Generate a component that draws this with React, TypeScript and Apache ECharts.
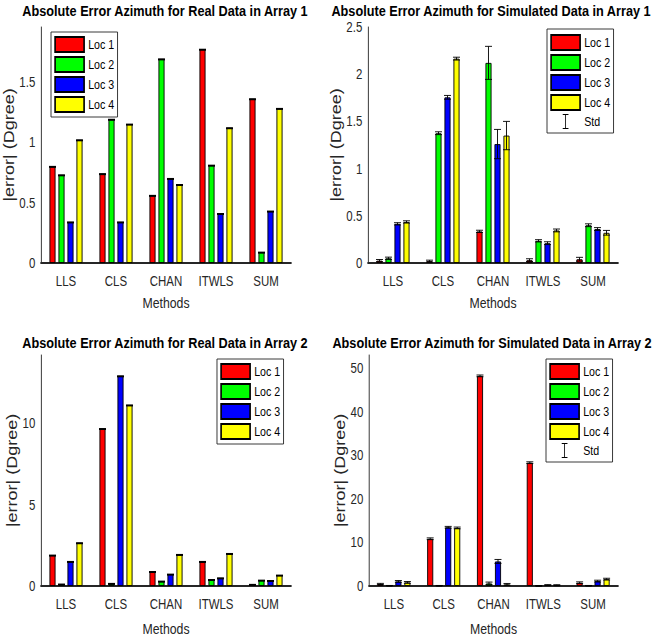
import React, { useEffect, useRef } from 'react';
import * as echarts from 'echarts';

const categories = ['LLS', 'CLS', 'CHAN', 'ITWLS', 'SUM'];
const locNames = ['Loc 1', 'Loc 2', 'Loc 3', 'Loc 4'];
const locColors = ['#ff0000', '#00ff00', '#0000ff', '#ffff00'];

// Absolute Error Azimuth for Real Data in Array 1
const real1Loc1 = [0.8, 0.74, 0.56, 1.77, 1.36];
const real1Loc2 = [0.73, 1.19, 1.69, 0.81, 0.09];
const real1Loc3 = [0.34, 0.34, 0.7, 0.41, 0.43];
const real1Loc4 = [1.02, 1.15, 0.65, 1.12, 1.28];

// Absolute Error Azimuth for Simulated Data in Array 1 (mean and std)
const sim1Loc1 = [0.025, 0.02, 0.335, 0.03, 0.04];
const sim1Loc2 = [0.05, 1.375, 2.12, 0.235, 0.4];
const sim1Loc3 = [0.415, 1.755, 1.26, 0.21, 0.36];
const sim1Loc4 = [0.435, 2.165, 1.35, 0.345, 0.32];
const sim1Std1 = [0.012, 0.01, 0.012, 0.015, 0.02];
const sim1Std2 = [0.012, 0.015, 0.175, 0.012, 0.015];
const sim1Std3 = [0.012, 0.02, 0.155, 0.015, 0.015];
const sim1Std4 = [0.012, 0.015, 0.15, 0.015, 0.025];

// Absolute Error Azimuth for Real Data in Array 2
const real2Loc1 = [1.9, 9.68, 0.89, 1.51, 0.1];
const real2Loc2 = [0.12, 0.16, 0.3, 0.4, 0.36];
const real2Loc3 = [1.51, 12.92, 0.73, 0.5, 0.34];
const real2Loc4 = [2.66, 11.13, 1.94, 2.0, 0.67];

// Absolute Error Azimuth for Simulated Data in Array 2 (mean and std)
const sim2Loc1 = [0.45, 10.86, 48.3, 28.35, 0.75];
const sim2Loc2 = [0.1, 0.1, 0.6, 0.05, 0.1];
const sim2Loc3 = [1.06, 13.5, 5.65, 0.22, 1.13];
const sim2Loc4 = [0.83, 13.35, 0.38, 0.2, 1.58];
const sim2Std1 = [0.15, 0.2, 0.2, 0.2, 0.2];
const sim2Std2 = [0.02, 0.02, 0.3, 0.02, 0.02];
const sim2Std3 = [0.2, 0.2, 0.45, 0.1, 0.2];
const sim2Std4 = [0.2, 0.2, 0.2, 0.1, 0.2];

const titles = [
  'Absolute Error Azimuth for Real Data in Array 1',
  'Absolute Error Azimuth for Simulated Data in Array 1',
  'Absolute Error Azimuth for Real Data in Array 2',
  'Absolute Error Azimuth for Simulated Data in Array 2',
];
const yMax = [1.954, 2.5, 14.2, 53.1];
const yInterval = [0.5, 0.5, 5, 10];

// The reference figure is horizontally condensed: draw wider, then squeeze.
const PAGE_W = 654;
const PAGE_H = 638;
const CHART_W = 798;
const SX = PAGE_W / CHART_W;
const sx = (v: number) => v / SX;

const SANS = '"Liberation Sans", Arial, sans-serif';
const AXIS_COLOR = '#262626';
const BAR_W = sx(6);
const BAR_STEP = sx(9);
const CAP_HW = sx(3.5);

const panels = [
  { values: [real1Loc1, real1Loc2, real1Loc3, real1Loc4], std: null as number[][] | null },
  { values: [sim1Loc1, sim1Loc2, sim1Loc3, sim1Loc4], std: [sim1Std1, sim1Std2, sim1Std3, sim1Std4] },
  { values: [real2Loc1, real2Loc2, real2Loc3, real2Loc4], std: null as number[][] | null },
  { values: [sim2Loc1, sim2Loc2, sim2Loc3, sim2Loc4], std: [sim2Std1, sim2Std2, sim2Std3, sim2Std4] },
];

const grids = [
  { left: sx(41), top: 27, width: sx(250), height: 236 },
  { left: sx(368), top: 27, width: sx(250), height: 236 },
  { left: sx(41), top: 355, width: sx(250), height: 234 },
  { left: sx(369), top: 355, width: sx(249), height: 234 },
];
const titleX = [sx(165), sx(491), sx(165), sx(492)];
const titleY = [11, 11, 343, 343];
const methodsGap = [33, 33, 36, 36];

const legendPos = [
  { left: sx(51), top: 32 },
  { left: sx(547), top: 29 },
  { left: sx(217), top: 359 },
  { left: sx(546), top: 359 },
];
const legendPadTop = [4, 5, 4, 4];

const STD_ICON = 'path://M0,0H7V1H4V14H7V15H0V14H3V1H0Z';

function errorBarRender(params: any, api: any) {
  const cat = api.value(0);
  const loc = api.value(1);
  const v = api.value(2);
  const s = api.value(3);
  const c = api.coord([cat, v]);
  const x = c[0] + (loc - 1.5) * BAR_STEP;
  const hi = api.coord([cat, v + s])[1];
  const lo = api.coord([cat, Math.max(v - s, 0)])[1];
  const style = { stroke: '#000', lineWidth: 1, fill: null };
  return {
    type: 'group',
    children: [
      { type: 'line', shape: { x1: x, y1: hi, x2: x, y2: lo }, style },
      { type: 'line', shape: { x1: x - CAP_HW, y1: hi, x2: x + CAP_HW, y2: hi }, style },
      { type: 'line', shape: { x1: x - CAP_HW, y1: lo, x2: x + CAP_HW, y2: lo }, style },
    ],
  };
}

function capRender(params: any, api: any) {
  const cat = api.value(0);
  const loc = api.value(1);
  const v = api.value(2);
  const c = api.coord([cat, v]);
  const x = c[0] + (loc - 1.5) * BAR_STEP;
  return {
    type: 'line',
    shape: { x1: x - CAP_HW, y1: c[1] + 0.5, x2: x + CAP_HW, y2: c[1] + 0.5 },
    style: { stroke: '#000', lineWidth: 2 },
  };
}

function buildOption() {
  const series: any[] = [];
  const xAxis: any[] = [];
  const yAxis: any[] = [];
  const legend: any[] = [];
  const graphic: any[] = [];

  panels.forEach((p, g) => {
    xAxis.push({
      type: 'category',
      gridIndex: g,
      data: categories,
      axisTick: { show: false },
      axisLine: { show: true, lineStyle: { color: AXIS_COLOR, width: 2 } },
      axisLabel: { color: AXIS_COLOR, fontFamily: SANS, fontSize: 14, margin: 11 },
      name: 'Methods',
      nameLocation: 'middle',
      nameGap: methodsGap[g],
      nameTextStyle: { color: AXIS_COLOR, fontFamily: SANS, fontSize: 15 },
      splitLine: { show: false },
    });
    yAxis.push({
      type: 'value',
      gridIndex: g,
      min: 0,
      max: yMax[g],
      interval: yInterval[g],
      axisTick: { show: false },
      axisLine: { show: true, lineStyle: { color: AXIS_COLOR, width: 1 } },
      axisLabel: {
        color: AXIS_COLOR,
        fontFamily: SANS,
        fontSize: 14,
        lineHeight: 14,
        margin: 7,
        showMaxLabel: g === 1,
      },
      splitLine: { show: false },
      name: '|error| (Dgree)',
      nameLocation: 'middle',
      nameGap: 25,
      nameTextStyle: { color: AXIS_COLOR, fontFamily: SANS, fontSize: 18 },
    });

    p.values.forEach((vals, i) => {
      series.push({
        type: 'bar',
        name: locNames[i],
        xAxisIndex: g,
        yAxisIndex: g,
        data: vals,
        barWidth: BAR_W,
        barGap: '50%',
        itemStyle: { color: locColors[i], borderColor: '#000', borderWidth: 1 },
        emphasis: { disabled: true },
      });
    });

    const errData: number[][] = [];
    p.values.forEach((vals, i) => {
      vals.forEach((v, c) => {
        errData.push([c, i, v, p.std ? p.std[i][c] : 0]);
      });
    });
    series.push({
      type: 'custom',
      name: p.std ? 'Std' : 'Top',
      xAxisIndex: g,
      yAxisIndex: g,
      data: errData,
      renderItem: p.std ? errorBarRender : capRender,
      itemStyle: { color: '#000' },
      encode: { x: 0, y: 2 },
      z: 5,
    });

    const legendData: any[] = locNames.map((n) => ({ name: n, icon: 'rect' }));
    if (p.std) legendData.push({ name: 'Std', icon: STD_ICON });
    legend.push({
      orient: 'vertical',
      left: legendPos[g].left,
      top: legendPos[g].top,
      data: legendData,
      itemWidth: sx(29),
      itemHeight: 15,
      itemGap: 3,
      padding: [legendPadTop[g], 4, 4, 4],
      borderColor: AXIS_COLOR,
      borderWidth: 1,
      backgroundColor: '#ffffff',
      selectedMode: false,
      textStyle: { color: '#000', fontFamily: SANS, fontSize: 13, lineHeight: 14 },
    });

    graphic.push({
      type: 'text',
      x: titleX[g],
      y: titleY[g],
      style: {
        text: titles[g],
        align: 'center',
        verticalAlign: 'middle',
        fill: '#000',
        font: `bold 15.5px ${SANS}`,
      },
    });
  });

  return {
    animation: false,
    backgroundColor: '#ffffff',
    grid: grids.map((g) => ({ ...g, containLabel: false })),
    xAxis,
    yAxis,
    legend,
    series,
    graphic,
  };
}

export default function App() {
  const ref = useRef<HTMLDivElement>(null);
  useEffect(() => {
    if (!ref.current) return;
    const chart = echarts.init(ref.current, undefined, { renderer: 'svg' });
    chart.setOption(buildOption() as any);
    return () => chart.dispose();
  }, []);
  return (
    <div
      style={{
        position: 'absolute',
        left: 0,
        top: 0,
        width: PAGE_W,
        height: PAGE_H,
        overflow: 'hidden',
        background: '#fff',
      }}
    >
      <div
        ref={ref}
        style={{
          width: CHART_W,
          height: PAGE_H,
          transform: `scaleX(${SX})`,
          transformOrigin: '0 0',
        }}
      />
    </div>
  );
}
